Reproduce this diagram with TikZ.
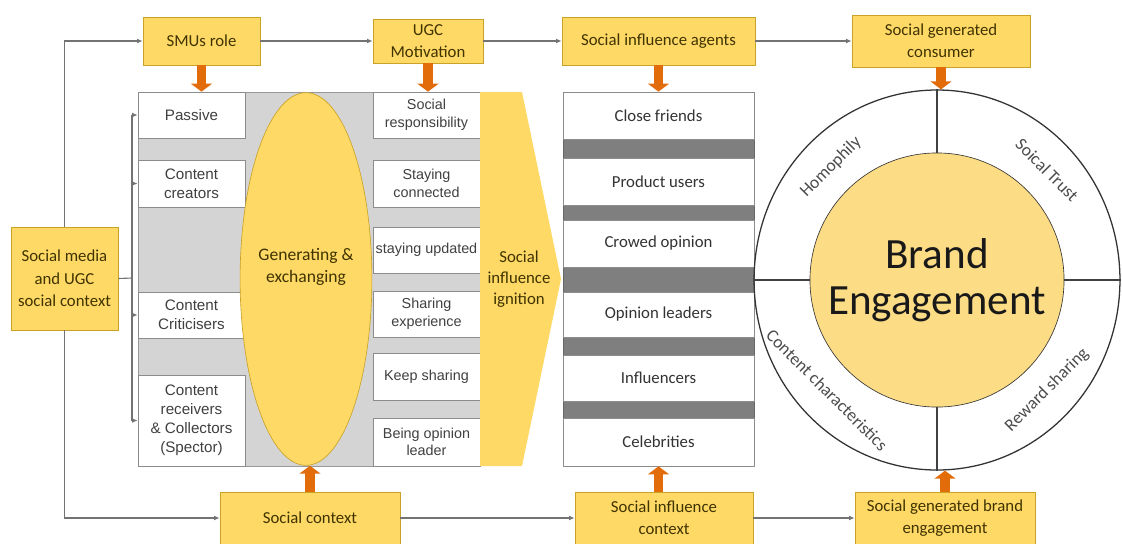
\documentclass[tikz,border=0pt]{standalone}
\usepackage{fontspec}
\setmainfont{Carlito}
\newfontfamily\arialfont{Liberation Sans}
\usetikzlibrary{arrows.meta, shapes.geometric}

\definecolor{boxyellow}{HTML}{FFD966}
\definecolor{boxedge}{HTML}{C9A227}
\definecolor{coreyellow}{HTML}{FDDC86}
\definecolor{pushorange}{HTML}{E36C0A}
\definecolor{panelgray}{HTML}{D4D4D4}
\definecolor{bargray}{HTML}{7F7F7F}
\definecolor{inkdark}{HTML}{3F3300}

\tikzset{
    span/.style n args={4}{at={({(#1+#3)/2},{(#2+#4)/2})}, minimum width={(#3-#1)*0.22mm}, minimum height={(#4-#2)*0.22mm}},
    ybox/.style={draw=boxedge, fill=boxyellow, inner sep=0pt, align=center, text=inkdark, font=\fontsize{10.5}{14}\selectfont},
    wbox/.style={draw=black!45, fill=white, inner sep=0pt, align=center, text=black!75, font=\arialfont\fontsize{9.5}{12}\selectfont},
    sbox/.style={draw=black!45, fill=white, inner sep=0pt, text=black!80, font=\fontsize{10.5}{12}\selectfont},
    inktext/.style={align=center, text=inkdark, font=\fontsize{10.5}{13}\selectfont},
    flow/.style={draw=black!55, line width=0.7pt, -{Latex[length=3.5pt,width=3pt]}},
    plainline/.style={draw=black!55, line width=0.7pt},
    spoke/.style={draw=black!75, line width=0.9pt},
    push/.style={draw=pushorange, line width=6pt, -{Triangle[length=5pt,width=13pt]}},
    ringtext/.style={text=black!70, font=\fontsize{11}{12}\selectfont},
}

\begin{document}
\begin{tikzpicture}[x=0.22mm, y=-0.22mm]
    \useasboundingbox (0,0) rectangle (1122,543);

    % outer boxes
    \node[ybox, span={11}{227}{118}{330}] (smctx) {Social media\\and UGC\\social context};
    \node[ybox, span={143}{17}{260}{65}] (smu) {SMUs role};
    \node[ybox, span={373}{19}{483}{63}] (ugc) {UGC\\Motivation};
    \node[ybox, span={562}{17}{755}{65}] (agents) {Social influence agents};
    \node[ybox, span={852}{15}{1030}{67}] (consumer) {Social generated\\consumer};
    \node[ybox, span={220}{492}{400}{544}] (sctx) {Social context};
    \node[ybox, span={575}{492}{753}{544}] (sic) {Social influence\\context};
    \node[ybox, span={855}{492}{1035}{544}] (sgbe) {Social generated brand\\engagement};

    % roles and motivations
    \node[fill=panelgray, draw=black!40, inner sep=0pt, span={138}{92}{480}{466}] (panel) {};
    \foreach \nm/\ya/\yb/\txt in {passive/92/138/Passive, creators/160/207/{Content\\creators},
        critics/292/338/{Content\\Criticisers}, receivers/375/466/{Content\\receivers\\\& Collectors\\(Spector)}}
        \node[wbox, span={138}{\ya}{245}{\yb}] (\nm) {\txt};
    \foreach \nm/\ya/\yb/\txt in {resp/92/138/{Social\\responsibility}, connect/160/207/{Staying\\connected},
        update/227/273/staying updated, share/291/337/{Sharing\\experience},
        keep/353/400/Keep sharing, opinion/418/466/{Being opinion\\leader}}
        \node[wbox, font=\arialfont\fontsize{9}{11}\selectfont, span={373}{\ya}{480}{\yb}] (\nm) {\txt};
    \node[ellipse, draw=boxedge, fill=boxyellow, minimum width=29mm, minimum height=82mm, inner sep=0pt] (gen) at (306,279) {};
    \node[inktext, font=\fontsize{11}{14}\selectfont] (genlabel) at (306,267) {Generating \&\\exchanging};

    \fill[boxyellow] (480,92) -- (522,92) -- (561,279) -- (522,466) -- (480,466) -- cycle;
    \node[inktext] (ignite) at (519,279) {Social\\influence\\ignition};

    % influence agents
    \node[fill=bargray, draw=black!60, inner sep=0pt, span={563}{92}{754}{466}] (stack) {};
    \foreach \nm/\ya/\yb/\txt in {friends/92/139/Close friends, users/158/205/Product users,
        crowd/220/267/Crowed opinion, leaders/292/337/Opinion leaders,
        influencers/355/401/Influencers, celebs/418/466/Celebrities}
        \node[sbox, span={563}{\ya}{754}{\yb}] (\nm) {\txt};

    % engagement wheel
    \node[ellipse, draw=black!80, line width=0.8pt, minimum width=80.5mm, minimum height=83.6mm, inner sep=0pt] (ring) at (937,280) {};
    \node[circle, draw=black!80, fill=coreyellow, minimum size=55.9mm, inner sep=0pt, align=center,
        font=\fontsize{27}{29}\selectfont, text=black!90] (core) at (937,280) {Brand\\Engagement};
    \foreach \a in {north, south, east, west}
        \draw[spoke] (ring.\a) -- (core.\a);
    \node[ringtext, rotate=45] (homo) at (831,167) {Homophily};
    \node[ringtext, rotate=-45] (trust) at (1047,170) {Soical Trust};
    \node[ringtext, rotate=-45] (content) at (827,390) {Content characteristics};
    \node[ringtext, rotate=45] (reward) at (1047,390) {Reward sharing};

    % connectors
    \draw[flow] (smctx.north) -- (smctx.north |- smu.west) -- (smu.west);
    \draw[flow] (smu) -- (ugc);
    \draw[flow] (ugc) -- (agents);
    \draw[flow] (agents) -- (consumer);
    \draw[flow] (smctx.south) -- (smctx.south |- sctx.west) -- (sctx.west);
    \draw[flow] (sctx) -- (sic);
    \draw[flow] (sic) -- (sgbe);

    \coordinate (fork) at (132,278);
    \draw[plainline] (smctx.east) -- (fork);
    \draw[plainline] (fork |- passive.west) -- (fork |- receivers.west);
    \foreach \b in {passive, creators, critics, receivers}
        \draw[flow] (fork |- \b.west) -- (\b.west);

    \draw[push] (smu.south) -- (smu.south |- panel.north);
    \draw[push] (ugc.south) -- (ugc.south |- panel.north);
    \draw[push] (agents.south) -- (agents.south |- stack.north);
    \draw[push] (consumer.south) -- (consumer.south |- ring.north);
    \draw[push] (sctx.north) -- (sctx.north |- gen.south);
    \draw[push] (celebs.south |- sic.north) -- (celebs.south);
    \draw[push] (sgbe.north) -- (sgbe.north |- ring.south);
\end{tikzpicture}
\end{document}
